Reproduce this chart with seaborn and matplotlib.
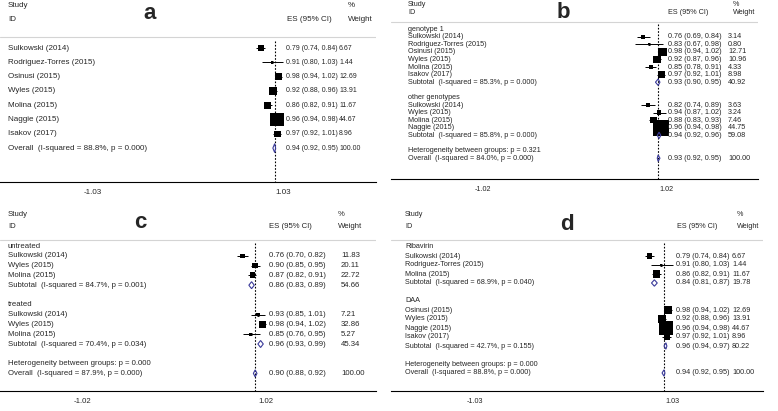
import numpy as np
import pandas as pd
import matplotlib
matplotlib.use("Agg")
import matplotlib.pyplot as plt
from matplotlib.patches import Polygon
import seaborn as sns

nan = np.nan

# panel a - all studies
a_labels = ["Sulkowski (2014)", "Rodriguez-Torres (2015)", "Osinusi (2015)", "Wyles (2015)",
            "Molina (2015)", "Naggie (2015)", "Isakov (2017)",
            "Overall  (I-squared = 88.8%, p = 0.000)"]
a_es = [0.79, 0.91, 0.98, 0.92, 0.86, 0.96, 0.97, 0.94]
a_lo = [0.74, 0.80, 0.94, 0.88, 0.82, 0.94, 0.92, 0.92]
a_hi = [0.84, 1.03, 1.02, 0.96, 0.91, 0.98, 1.01, 0.95]
a_wt = [6.67, 1.44, 12.69, 13.91, 11.67, 44.67, 8.96, 100.00]

# panel b - by genotype
b_labels = ["genotype 1", "Sulkowski (2014)", "Rodriguez-Torres (2015)", "Osinusi (2015)",
            "Wyles (2015)", "Molina (2015)", "Isakov (2017)",
            "Subtotal  (I-squared = 85.3%, p = 0.000)", "",
            "other genotypes", "Sulkowski (2014)", "Wyles (2015)", "Molina (2015)", "Naggie (2015)",
            "Subtotal  (I-squared = 85.8%, p = 0.000)", "",
            "Heterogeneity between groups: p = 0.321",
            "Overall  (I-squared = 84.0%, p = 0.000)"]
b_es = [nan, 0.76, 0.83, 0.98, 0.92, 0.85, 0.97, 0.93, nan, nan, 0.82, 0.94, 0.88, 0.96, 0.94, nan, nan, 0.93]
b_lo = [nan, 0.69, 0.67, 0.94, 0.87, 0.78, 0.92, 0.90, nan, nan, 0.74, 0.87, 0.83, 0.94, 0.92, nan, nan, 0.92]
b_hi = [nan, 0.84, 0.98, 1.02, 0.96, 0.91, 1.01, 0.95, nan, nan, 0.89, 1.02, 0.93, 0.98, 0.96, nan, nan, 0.95]
b_wt = [nan, 3.14, 0.80, 12.71, 10.96, 4.33, 8.98, 40.92, nan, nan, 3.63, 3.24, 7.46, 44.75, 59.08, nan, nan, 100.00]

# panel c - by treatment history
c_labels = ["untreated", "Sulkowski (2014)", "Wyles (2015)", "Molina (2015)",
            "Subtotal  (I-squared = 84.7%, p = 0.001)", "",
            "treated", "Sulkowski (2014)", "Wyles (2015)", "Molina (2015)",
            "Subtotal  (I-squared = 70.4%, p = 0.034)", "",
            "Heterogeneity between groups: p = 0.000",
            "Overall  (I-squared = 87.9%, p = 0.000)"]
c_es = [nan, 0.76, 0.90, 0.87, 0.86, nan, nan, 0.93, 0.98, 0.85, 0.96, nan, nan, 0.90]
c_lo = [nan, 0.70, 0.85, 0.82, 0.83, nan, nan, 0.85, 0.94, 0.76, 0.93, nan, nan, 0.88]
c_hi = [nan, 0.82, 0.95, 0.91, 0.89, nan, nan, 1.01, 1.02, 0.95, 0.99, nan, nan, 0.92]
c_wt = [nan, 11.83, 20.11, 22.72, 54.66, nan, nan, 7.21, 32.86, 5.27, 45.34, nan, nan, 100.00]

# panel d - by regimen
d_labels = ["Ribavirin", "Sulkowski (2014)", "Rodriguez-Torres (2015)", "Molina (2015)",
            "Subtotal  (I-squared = 68.9%, p = 0.040)", "",
            "DAA", "Osinusi (2015)", "Wyles (2015)", "Naggie (2015)", "Isakov (2017)",
            "Subtotal  (I-squared = 42.7%, p = 0.155)", "",
            "Heterogeneity between groups: p = 0.000",
            "Overall  (I-squared = 88.8%, p = 0.000)"]
d_es = [nan, 0.79, 0.91, 0.86, 0.84, nan, nan, 0.98, 0.92, 0.96, 0.97, 0.96, nan, nan, 0.94]
d_lo = [nan, 0.74, 0.80, 0.82, 0.81, nan, nan, 0.94, 0.88, 0.94, 0.92, 0.94, nan, nan, 0.92]
d_hi = [nan, 0.84, 1.03, 0.91, 0.87, nan, nan, 1.02, 0.96, 0.98, 1.01, 0.97, nan, nan, 0.95]
d_wt = [nan, 6.67, 1.44, 11.67, 19.78, nan, nan, 12.69, 13.91, 44.67, 8.96, 80.22, nan, nan, 100.00]

sns.set_style("white")
plt.rcParams["font.family"] = ["Liberation Sans", "DejaVu Sans"]

W, H = 778, 411
fig = plt.figure(figsize=(W / 100, H / 100), dpi=100)

DIAMOND = "#3a3a9a"


def forest(letter, labels, es, lo, hi, wt, box, tick, lay):
    # lay: pixel layout of the panel
    left, right, top, bottom = lay["box"]
    ax = fig.add_axes([left / W, 1 - bottom / H, (right - left) / W, (bottom - top) / H])
    df = pd.DataFrame({"label": labels, "es": es, "lo": lo, "hi": hi, "wt": wt})
    df["row"] = np.arange(len(df))
    pooled = df.label.str.startswith(("Subtotal", "Overall"))
    st = df[df.es.notna() & ~pooled]
    dm = df[pooled]
    fs = lay["fs"]
    nfs = lay.get("nfs", fs)
    sp = lay["spacing"]
    r0 = lay["row0"]

    ax.set_xlim(lay["xlim"])
    ax.set_ylim((bottom - r0) / sp, (top - r0) / sp)

    # study boxes, CI lines and centre dots
    sizes = (box * np.sqrt(st.wt) * 0.72) ** 2
    sns.scatterplot(data=st, x="es", y="row", marker="s", s=sizes, color="black",
                    linewidth=0, legend=False, ax=ax, zorder=3)
    ax.hlines(st.row, st.lo, st.hi, color="black", lw=0.7, zorder=4)
    ax.scatter(st.es, st.row, s=1.2, color="black", zorder=5)

    # pooled diamonds
    hh = lay["dh"] / sp
    for _, r in dm.iterrows():
        ax.add_patch(Polygon([(r.lo, r.row), (r.es, r.row - hh), (r.hi, r.row), (r.es, r.row + hh)],
                             closed=True, fill=False, edgecolor=DIAMOND, lw=0.8, zorder=4))

    # overall line
    sep = (lay["sep"] - r0) / sp
    overall = dm.es.iloc[-1]
    ax.vlines(overall, sep + 0.3, (bottom - r0) / sp, colors="black", lw=0.8,
              linestyles=(0, (1.5, 1.5)), zorder=2)
    ax.axhline(sep, color="#d4d4d4", lw=0.8)

    # text columns
    tx = ax.get_yaxis_transform()
    for _, r in df.iterrows():
        ax.text(lay["xl"], r.row, r.label, transform=tx, fontsize=fs, va="center", ha="left")
        if not np.isnan(r.es):
            ax.text(lay["xes"], r.row, f"{r.es:.2f} ({r.lo:.2f}, {r.hi:.2f})", transform=tx,
                    fontsize=nfs, va="center", ha="left")
            ax.text(lay["xw"], r.row, f"{r.wt:.2f}", transform=tx, fontsize=nfs, va="center",
                    ha="left")

    # headers
    h1 = (lay["h1"] - r0) / sp
    h2 = (lay["h2"] - r0) / sp
    ax.text(lay["xl"], h1, "Study", transform=tx, fontsize=fs, va="center")
    ax.text(lay["xl"], h2, "ID", transform=tx, fontsize=fs, va="center")
    ax.text(lay["xesh"], h2, "ES (95% CI)", transform=tx, fontsize=fs, va="center")
    ax.text(lay["xwh"], h1, "%", transform=tx, fontsize=fs, va="center")
    ax.text(lay["xwh"], h2, "Weight", transform=tx, fontsize=fs, va="center")
    ax.text(lay["xlet"], (lay["ylet"] - r0) / sp, letter, transform=tx, fontsize=16,
            fontweight="bold", va="center", ha="center")

    for s in ["top", "left", "right"]:
        ax.spines[s].set_visible(False)
    ax.spines["bottom"].set_color("black")
    ax.spines["bottom"].set_linewidth(0.8)
    ax.set_xticks([-tick, tick])
    ax.set_xticklabels([f"-{tick:.2f}", f"{tick:.2f}"])
    ax.tick_params(axis="x", length=3, width=0.6, pad=2, labelsize=fs, color="black")
    ax.set_yticks([])
    ax.set_xlabel("")
    ax.set_ylabel("")
    ax.patch.set_alpha(0)
    return ax


forest("a", a_labels, a_es, a_lo, a_hi, a_wt, box=2.09, tick=1.03,
       lay=dict(box=(0, 376, 0, 182), xlim=(-2.038, 2.038), row0=48, spacing=14.3,
                h1=5, h2=19, sep=37, fs=5.8, nfs=5.0, dh=4.5,
                xl=8 / 376, xes=286 / 376, xw=339 / 376, xesh=287 / 376, xwh=348 / 376,
                xlet=150 / 376, ylet=13))

forest("b", b_labels, b_es, b_lo, b_hi, b_wt, box=2.35, tick=1.02,
       lay=dict(box=(391, 758, 0, 179), xlim=(-2.04, 2.04), row0=29, spacing=7.6,
                h1=4, h2=12, sep=22, fs=5.2, dh=3.2,
                xl=17 / 367, xes=277 / 367, xw=337 / 367, xesh=277 / 367, xwh=342 / 367,
                xlet=172 / 367, ylet=12))

forest("c", c_labels, c_es, c_lo, c_hi, c_wt, box=1.22, tick=1.02,
       lay=dict(box=(0, 376, 200, 391), xlim=(-1.93, 2.24), row0=246, spacing=9.8,
                h1=215, h2=226, sep=240, fs=5.6, dh=3.5,
                xl=8 / 376, xes=269 / 376, xw=341 / 376, xesh=269 / 376, xwh=338 / 376,
                xlet=140 / 376, ylet=223))

forest("d", d_labels, d_es, d_lo, d_hi, d_wt, box=2.09, tick=1.03,
       lay=dict(box=(391, 763, 200, 391), xlim=(-1.90, 1.97), row0=247, spacing=9.0,
                h1=215, h2=226, sep=240, fs=5.2, dh=3.2,
                xl=14 / 372, xes=285 / 372, xw=341 / 372, xesh=286 / 372, xwh=346 / 372,
                xlet=176 / 372, ylet=225))

fig.savefig("out.png", dpi=100)
